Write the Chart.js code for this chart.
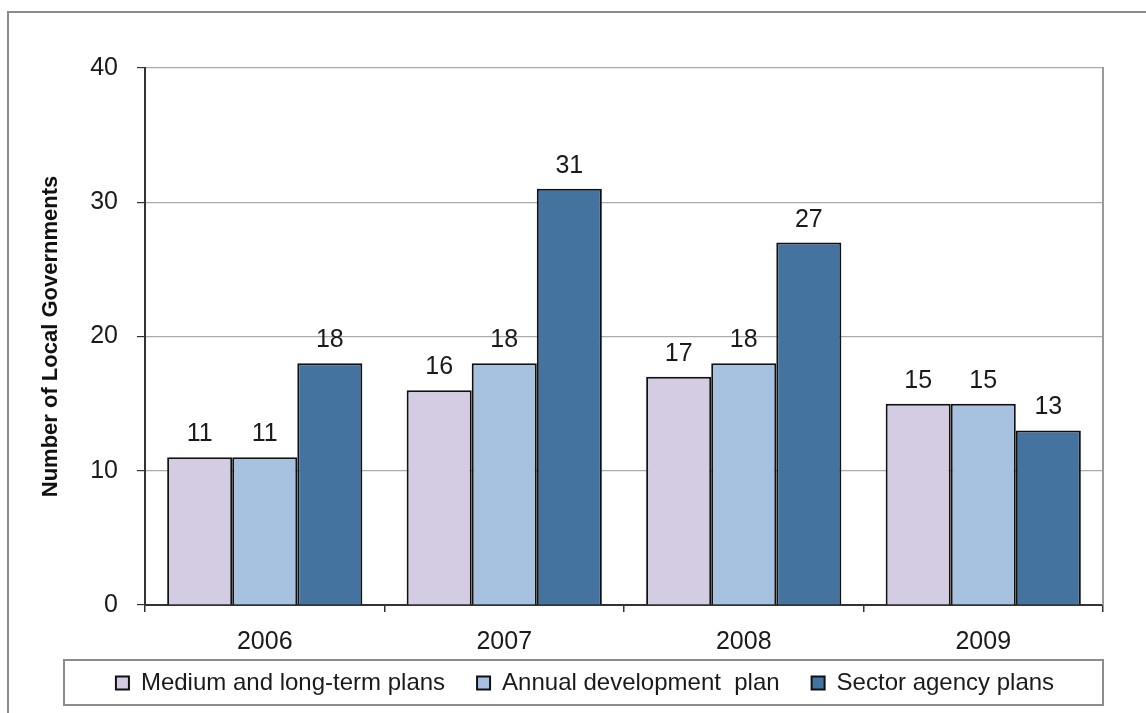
<!DOCTYPE html>
<html>
<head>
<meta charset="utf-8">
<script src="https://cdn.jsdelivr.net/npm/chart.js@4"></script>
<style>
  body { margin: 0; background: #fff; overflow: hidden; }
  #marco { position: absolute; left: 7px; top: 11px; width: 2000px; height: 2000px;
           border-top: 2px solid #8c8c8c; border-left: 2px solid #8c8c8c; }
  #caja { position: absolute; left: 0; top: 0; width: 1146px; height: 713px; }
</style>
</head>
<body>
<div id="marco"></div>
<div id="caja"><canvas id="miGrafica"></canvas></div>
<script>
// datos
var anios = ["2006", "2007", "2008", "2009"]
var medio_largo = [11, 16, 17, 15]
var anual = [11, 18, 18, 15]
var sectorial = [18, 31, 27, 13]
var series = ["Medium and long-term plans", "Annual development  plan", "Sector agency plans"]
var colores = ["#d4cce2", "#a7c2e0", "#44739f"]
var ticks_y = [0, 10, 20, 30, 40]

var fuente = "'Liberation Sans', Arial, sans-serif"

// etiquetas de valor encima de cada barra
var etiquetas = {
    id: 'etiquetas',
    afterDatasetsDraw(chart) {
        var ctx = chart.ctx
        ctx.save()
        ctx.font = "25px " + fuente
        ctx.fillStyle = "#1a1a1a"
        ctx.textAlign = "center"
        ctx.textBaseline = "alphabetic"
        chart.data.datasets.forEach(function (ds, i) {
            chart.getDatasetMeta(i).data.forEach(function (barra, j) {
                ctx.fillText(ds.data[j], barra.x, barra.y - 16)
            })
        })
        ctx.restore()
    }
}

// la leyenda sube un poco para quedar dentro de su caja
var subirLeyenda = {
    id: 'subirLeyenda',
    afterLayout(chart) {
        var ley = chart.legend
        if (ley) {
            ley.top -= 21
            ley.bottom -= 21
        }
    }
}

// borde derecho del area y caja de la leyenda
var bordes = {
    id: 'bordes',
    beforeDatasetsDraw(chart) {
        var a = chart.chartArea
        var ctx = chart.ctx
        ctx.save()
        ctx.strokeStyle = "#9a9a9a"
        ctx.lineWidth = 2
        ctx.beginPath()
        ctx.moveTo(a.right, a.top - 1)
        ctx.lineTo(a.right, a.bottom)
        ctx.stroke()
        ctx.restore()
    },
    afterDraw(chart) {
        var a = chart.chartArea
        var ley = chart.legend
        var ctx = chart.ctx
        ctx.save()
        ctx.strokeStyle = "#8c8c8c"
        ctx.lineWidth = 2
        ctx.strokeRect(a.right - 1039, ley.top + 21, 1039, 45)
        ctx.restore()
    }
}

new Chart("miGrafica", {
    type: "bar",
    data: {
        labels: anios,
        datasets: [
            { label: series[0], data: medio_largo, backgroundColor: colores[0] },
            { label: series[1], data: anual, backgroundColor: colores[1] },
            { label: series[2], data: sectorial, backgroundColor: colores[2] }
        ]
    },
    options: {
        responsive: true,
        maintainAspectRatio: false,
        animation: false,
        layout: { padding: { left: 67, right: 43, top: 68, bottom: -13 } },
        datasets: {
            bar: {
                borderColor: "#111",
                borderWidth: 2,
                categoryPercentage: 0.815,
                barPercentage: 1
            }
        },
        plugins: {
            tooltip: { enabled: false },
            legend: {
                position: "bottom",
                labels: {
                    color: "#1a1a1a",
                    font: { family: fuente, size: 24 },
                    boxWidth: 13,
                    boxHeight: 13,
                    padding: 32
                }
            }
        },
        scales: {
            x: {
                grid: { drawOnChartArea: false, tickLength: 7, color: "#333", lineWidth: 1.5 },
                border: { display: true, color: "#333", width: 2 },
                ticks: { color: "#1a1a1a", font: { family: fuente, size: 25 }, padding: 15 },
                afterFit: function (s) { s.height = 55 }
            },
            y: {
                min: 0,
                max: 40,
                afterBuildTicks: function (s) { s.ticks = ticks_y.map(function (v) { return { value: v } }) },
                grid: { color: "#ababab", lineWidth: 1.2, tickLength: 8, tickColor: "#333" },
                border: { display: true, color: "#333", width: 2 },
                ticks: { color: "#1a1a1a", font: { family: fuente, size: 25 }, padding: 19 },
                title: {
                    display: true,
                    text: "Number of Local Governments",
                    color: "#111",
                    font: { family: fuente, size: 22, weight: "bold" },
                    padding: { top: -29, bottom: 0 }
                },
                afterFit: function (s) { s.width = 78 }
            }
        }
    },
    plugins: [etiquetas, subirLeyenda, bordes]
})
</script>
</body>
</html>
